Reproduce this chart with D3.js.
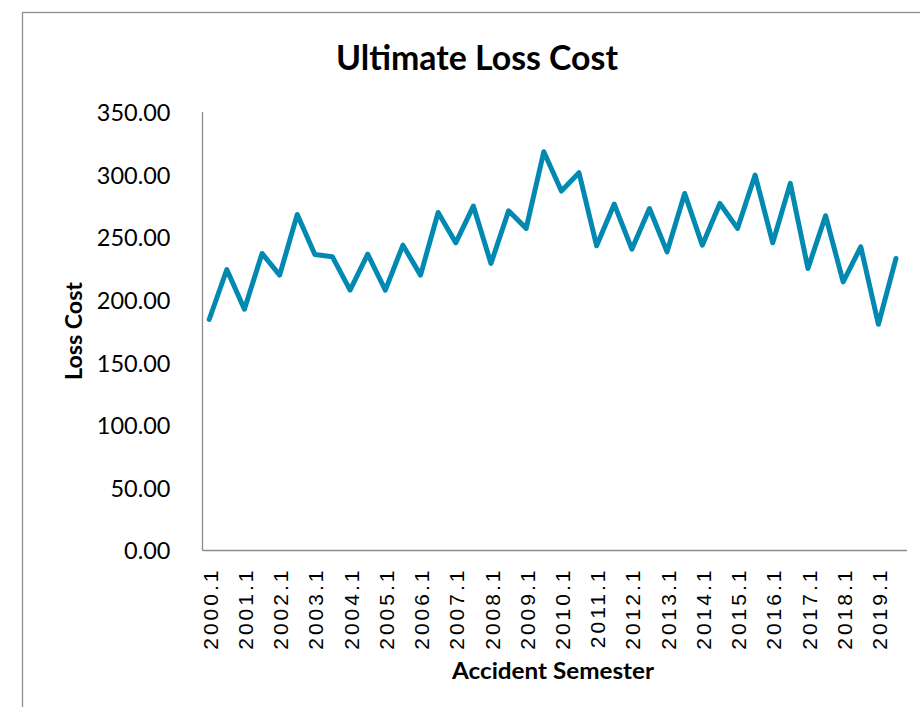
<!DOCTYPE html>
<html>
<head>
<meta charset="utf-8">
<script src="https://cdn.jsdelivr.net/npm/d3@7/dist/d3.min.js"></script>
<style>
  html, body { margin: 0; padding: 0; background: #ffffff; }
  svg { display: block; }
</style>
</head>
<body>
<div id="chart"></div>
<script>
const categories = [
  "2000.1","2000.2","2001.1","2001.2","2002.1","2002.2","2003.1","2003.2",
  "2004.1","2004.2","2005.1","2005.2","2006.1","2006.2","2007.1","2007.2",
  "2008.1","2008.2","2009.1","2009.2","2010.1","2010.2","2011.1","2011.2",
  "2012.1","2012.2","2013.1","2013.2","2014.1","2014.2","2015.1","2015.2",
  "2016.1","2016.2","2017.1","2017.2","2018.1","2018.2","2019.1","2019.2"
];
const lossCost = [
  184.4, 224.3, 192.6, 237.1, 219.8, 268.2, 236.3, 234.4,
  207.8, 236.5, 207.8, 243.7, 219.8, 269.8, 245.6, 274.9,
  229.1, 271.1, 257.1, 318.3, 286.9, 301.5, 243.2, 276.5,
  240.5, 273.0, 238.4, 285.0, 243.7, 277.0, 257.1, 299.7,
  245.6, 293.0, 225.1, 267.2, 214.4, 242.4, 180.6, 233.1
];
const yTicks = [0, 50, 100, 150, 200, 250, 300, 350];
const xTickLabels = categories.filter(c => c.endsWith(".1"));

const W = 920, H = 707;
const svg = d3.select("#chart").append("svg").attr("width", W).attr("height", H);

// outer chart border (extends past the window on right/bottom)
svg.append("rect")
  .attr("x", 22.5).attr("y", 12.5)
  .attr("width", 1000).attr("height", 1000)
  .attr("fill", "none").attr("stroke", "#8c8c8c").attr("stroke-width", 1.3);

const x = d3.scaleBand().domain(categories).range([200.4, 904.8]).padding(0);
const y = d3.scaleLinear().domain([0, 350]).range([550.5, 112]);
const xc = d => x(d) + x.bandwidth() / 2;

// title
svg.append("text")
  .attr("x", 477).attr("y", 70)
  .attr("text-anchor", "middle")
  .attr("font-family", "Lato, 'Open Sans', sans-serif")
  .attr("font-weight", "bold").attr("font-size", 35)
  .attr("textLength", 282).attr("lengthAdjust", "spacingAndGlyphs")
  .attr("fill", "#000")
  .text("Ultimate Loss Cost");

// y axis
const yAxis = svg.append("g")
  .attr("transform", "translate(202.5,0)")
  .call(d3.axisLeft(y).tickValues(yTicks).tickSize(0).tickPadding(32).tickFormat(d3.format(".2f")));
yAxis.select(".domain").attr("stroke", "#8c8c8c").attr("stroke-width", 1.3)
  .attr("d", `M0,${y(350)}V${y(0)}`);
yAxis.selectAll("text")
  .attr("font-family", "Lato, 'Open Sans', sans-serif")
  .attr("font-size", 23.5).attr("fill", "#000").attr("dy", "0.36em");

// x axis
const xAxis = svg.append("g")
  .attr("transform", `translate(0,${y(0)})`)
  .call(d3.axisBottom(x).tickValues(xTickLabels).tickSize(0).tickPadding(0));
xAxis.select(".domain").attr("stroke", "#8c8c8c").attr("stroke-width", 1.3)
  .attr("d", `M202.5,0H907`);
xAxis.selectAll(".tick text")
  .attr("font-family", "'Liberation Sans', Arial, sans-serif")
  .attr("font-size", 21).attr("fill", "#000")
  .attr("letter-spacing", "3px")
  .attr("text-anchor", "end")
  .attr("transform", "translate(1,17) rotate(-90)")
  .attr("x", 0).attr("y", 0).attr("dy", "0.36em");

// axis titles
svg.append("text")
  .attr("transform", "translate(82,331) rotate(-90)")
  .attr("text-anchor", "middle")
  .attr("font-family", "Lato, 'Open Sans', sans-serif")
  .attr("font-weight", "bold").attr("font-size", 23.5)
  .attr("textLength", 98).attr("lengthAdjust", "spacingAndGlyphs")
  .attr("fill", "#000")
  .text("Loss Cost");

svg.append("text")
  .attr("x", 553).attr("y", 679)
  .attr("text-anchor", "middle")
  .attr("font-family", "Lato, 'Open Sans', sans-serif")
  .attr("font-weight", "bold").attr("font-size", 23.5)
  .attr("textLength", 202).attr("lengthAdjust", "spacingAndGlyphs")
  .attr("fill", "#000")
  .text("Accident Semester");

// line
const line = d3.line().x((d, i) => xc(categories[i])).y(d => y(d));
svg.append("path")
  .datum(lossCost)
  .attr("d", line)
  .attr("fill", "none")
  .attr("stroke", "#0189b1")
  .attr("stroke-width", 5)
  .attr("stroke-linejoin", "round")
  .attr("stroke-linecap", "round");
</script>
</body>
</html>
